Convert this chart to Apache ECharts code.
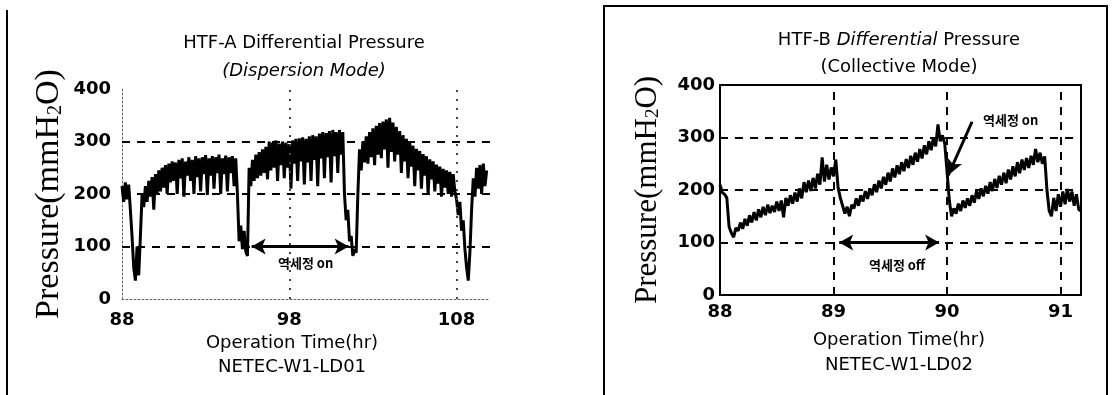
<!DOCTYPE html>
<html>
<head>
<meta charset="utf-8">
<script src="https://cdn.jsdelivr.net/npm/echarts@6/dist/echarts.min.js"></script>
<style>
  html, body { margin: 0; background: #fff; }
  #chart { width: 1114px; height: 395px; }
</style>
</head>
<body>
<div id="chart"></div>
<script>
// HTF-A, sampled every 0.1 hr from 88 hr
const startA = 88
const stepA = 0.1
const pressA = [
  215, 185, 222, 190, 218, 170, 120, 60, 35, 100,
  45, 120, 200, 175, 215, 185, 225, 195, 232, 170,
  238, 200, 245, 205, 250, 212, 255, 200, 258, 222,
  262, 225, 260, 200, 265, 230, 268, 195, 262, 235,
  270, 225, 265, 200, 272, 232, 268, 205, 270, 238,
  274, 198, 268, 235, 272, 210, 270, 240, 275, 200,
  268, 238, 273, 205, 270, 240, 272, 215, 268, 200,
  110, 140, 95, 130, 90, 82, 250, 215, 265, 225,
  275, 230, 280, 235, 285, 240, 290, 228, 300, 245,
  298, 250, 302, 225, 296, 255, 300, 230, 298, 250,
  295, 210, 302, 258, 305, 225, 306, 262, 308, 218,
  305, 260, 310, 225, 312, 265, 310, 215, 315, 268,
  318, 230, 316, 270, 320, 222, 322, 272, 318, 240,
  322, 275, 318, 200, 150, 170, 110, 120, 82, 95,
  88, 200, 285, 245, 300, 260, 310, 258, 318, 270,
  325, 255, 330, 275, 335, 268, 338, 285, 342, 250,
  345, 280, 336, 262, 328, 275, 320, 240, 312, 262,
  305, 230, 298, 252, 292, 215, 286, 245, 282, 210,
  276, 235, 272, 200, 266, 228, 262, 205, 256, 220,
  252, 195, 248, 212, 245, 200, 242, 195, 238, 205,
  190, 160, 185, 130, 150, 95, 60, 35, 90, 170,
  230, 195, 250, 210, 255, 200, 258, 215, 245
]

// HTF-B, sampled every 0.02 hr from 88 hr
const startB = 88
const stepB = 0.02
const pressB = [
  210, 195, 192, 185, 130, 118, 110, 128, 122, 138,
  126, 145, 132, 152, 138, 158, 142, 163, 148, 168,
  152, 172, 156, 170, 158, 178, 160, 180, 148, 185,
  170, 190, 174, 195, 178, 203, 184, 215, 196, 218,
  198, 223, 203, 231, 210, 262, 216, 248, 220, 243,
  226, 258, 205, 185, 170, 155, 168, 150, 172, 165,
  184, 170, 190, 178, 198, 183, 203, 190, 211, 196,
  218, 203, 225, 210, 233, 216, 241, 224, 247, 230,
  253, 236, 259, 242, 265, 248, 271, 254, 278, 260,
  285, 268, 293, 276, 299, 283, 325, 293, 304, 288,
  235, 180, 150, 165, 155, 174, 160, 180, 166, 184,
  170, 190, 176, 198, 183, 203, 188, 208, 193, 215,
  198, 221, 204, 227, 210, 233, 213, 239, 220, 245,
  226, 253, 232, 258, 238, 261, 242, 265, 248, 278,
  253, 271, 250, 264, 200, 160, 150, 185, 160, 192,
  168, 197, 173, 202, 178, 197, 170, 192, 163, 160
]

const xTicksA = [88, 98, 108]
const xTicksB = [89, 90, 91]
const yGrid = [100, 200, 300]

const SANS = 'DejaVu Sans'
const SERIF = 'Liberation Serif'
const INK = '#000'

const toPoints = (start, step, vals) => vals.map((v, i) => [+(start + i * step).toFixed(2), v])

const yName = (size) => ({
  name: '{a|Pressure(mmH}{s|2}{a|O)}',
  nameLocation: 'middle',
  nameRotate: 90,
  nameTextStyle: {
    rich: {
      a: { fontFamily: SERIF, fontSize: size, color: INK },
      s: { fontFamily: SERIF, fontSize: Math.round(size * 0.6), color: INK, verticalAlign: 'bottom' }
    }
  }
})

const tickFont = { fontFamily: SANS, fontSize: 18, fontWeight: 'bold', color: INK }
const dash = { type: [8, 7], width: 2, color: INK }
const dots = { type: [2, 7], width: 2, color: '#444' }
const krLabel = (text) => ({ show: true, position: 'inside', formatter: text, fontFamily: 'Noto Sans CJK KR', fontWeight: 'bold', fontSize: 13, color: INK })

const chart = echarts.init(document.getElementById('chart'))

chart.setOption({
  animation: false,
  grid: [
    { left: 122, top: 89, width: 368, height: 210 },
    { left: 720, top: 85, width: 361, height: 210, show: true, borderColor: INK, borderWidth: 2 }
  ],
  xAxis: [
    {
      gridIndex: 0, type: 'value', min: 88, max: 110, interval: 10,
      axisLine: { lineStyle: { color: '#666', type: [2, 2], width: 1 } },
      axisTick: { show: false }, splitLine: { show: false },
      axisLabel: Object.assign({ showMaxLabel: false, margin: 12 }, tickFont)
    },
    {
      gridIndex: 1, type: 'value', min: 88, max: 91.18, interval: 1,
      axisLine: { lineStyle: { color: INK, width: 2 } },
      axisTick: { show: false }, splitLine: { show: false },
      axisLabel: Object.assign({ showMaxLabel: false, margin: 8 }, tickFont)
    }
  ],
  yAxis: [
    Object.assign({
      gridIndex: 0, type: 'value', min: 0, max: 400, interval: 100, nameGap: 56,
      axisLine: { show: true, lineStyle: { color: '#666', type: [2, 2], width: 1 } },
      axisTick: { show: false }, splitLine: { show: false },
      axisLabel: Object.assign({ margin: 11 }, tickFont)
    }, yName(34)),
    Object.assign({
      gridIndex: 1, type: 'value', min: 0, max: 400, interval: 100, nameGap: 57,
      axisLine: { show: true, lineStyle: { color: INK, width: 2 } },
      axisTick: { show: false }, splitLine: { show: false },
      axisLabel: Object.assign({ margin: 5 }, tickFont)
    }, yName(31))
  ],
  series: [
    {
      // reference lines behind the HTF-A trace
      type: 'line', xAxisIndex: 0, yAxisIndex: 0, data: [], z: 1,
      markLine: {
        silent: true, symbol: 'none', label: { show: false },
        data: yGrid.map(v => ({ yAxis: v, lineStyle: dash }))
          .concat(xTicksA.slice(1).map(v => ({ xAxis: v, lineStyle: dots })))
      }
    },
    {
      type: 'line', xAxisIndex: 0, yAxisIndex: 0, z: 2,
      data: toPoints(startA, stepA, pressA),
      showSymbol: false, lineStyle: { color: INK, width: 3 },
      markLine: {
        silent: true, symbol: 'none', label: { show: false },
        data: [[
          { coord: [95.75, 100], symbol: 'arrow', symbolSize: [12, 14] },
          { coord: [101.55, 100], symbol: 'arrow', symbolSize: [12, 14] }
        ]],
        lineStyle: { color: INK, width: 3, type: 'solid' }
      },
      markPoint: {
        silent: true, symbol: 'circle', symbolSize: 0,
        data: [{ coord: [98.98, 68], label: krLabel('역세정 on') }]
      }
    },
    {
      // reference lines behind the HTF-B trace
      type: 'line', xAxisIndex: 1, yAxisIndex: 1, data: [], z: 1,
      markLine: {
        silent: true, symbol: 'none', label: { show: false },
        data: yGrid.map(v => ({ yAxis: v, lineStyle: dash }))
          .concat(xTicksB.map(v => ({ xAxis: v, lineStyle: dash })))
      }
    },
    {
      type: 'line', xAxisIndex: 1, yAxisIndex: 1, z: 2,
      data: toPoints(startB, stepB, pressB),
      showSymbol: false, lineStyle: { color: INK, width: 3 },
      markLine: {
        silent: true, symbol: 'none', label: { show: false },
        lineStyle: { color: INK, width: 3, type: 'solid' },
        data: [
          [
            { coord: [89.05, 100], symbol: 'arrow', symbolSize: [12, 14] },
            { coord: [89.93, 100], symbol: 'arrow', symbolSize: [12, 14] }
          ],
          [
            { coord: [90.22, 330], symbol: 'none' },
            { coord: [90.01, 228], symbol: 'arrow', symbolSize: [12, 16] }
          ]
        ]
      },
      markPoint: {
        silent: true, symbol: 'circle', symbolSize: 0,
        data: [
          { coord: [89.56, 57], label: krLabel('역세정 off') },
          { coord: [90.56, 333], label: krLabel('역세정 on') }
        ]
      }
    }
  ],
  graphic: [
    // panel frames
    { type: 'line', shape: { x1: 7, y1: 10, x2: 7, y2: 400 }, style: { stroke: INK, lineWidth: 2 } },
    { type: 'rect', shape: { x: 604, y: 6, width: 503, height: 400 }, style: { fill: 'none', stroke: INK, lineWidth: 2 } },
    // texts, left panel
    { type: 'text', x: 304, y: 43, style: { text: 'HTF-A Differential Pressure', font: '18px "DejaVu Sans"', fill: INK, textAlign: 'center', textVerticalAlign: 'middle' } },
    { type: 'text', x: 304, y: 71, style: { text: '(Dispersion Mode)', font: 'italic 18px "DejaVu Sans"', fill: INK, textAlign: 'center', textVerticalAlign: 'middle' } },
    { type: 'text', x: 292, y: 343, style: { text: 'Operation Time(hr)', font: '18px "DejaVu Sans"', fill: INK, textAlign: 'center', textVerticalAlign: 'middle' } },
    { type: 'text', x: 292, y: 367, style: { text: 'NETEC-W1-LD01', font: '18px "DejaVu Sans"', fill: INK, textAlign: 'center', textVerticalAlign: 'middle' } },
    // texts, right panel
    { type: 'text', x: 899, y: 40, style: { text: 'HTF-B {i|Differential} Pressure', font: '18px "DejaVu Sans"', fill: INK, textAlign: 'center', textVerticalAlign: 'middle', rich: { i: { fontStyle: 'italic', fontFamily: SANS, fontSize: 18, fill: INK } } } },
    { type: 'text', x: 899, y: 67, style: { text: '(Collective Mode)', font: '18px "DejaVu Sans"', fill: INK, textAlign: 'center', textVerticalAlign: 'middle' } },
    { type: 'text', x: 899, y: 340, style: { text: 'Operation Time(hr)', font: '18px "DejaVu Sans"', fill: INK, textAlign: 'center', textVerticalAlign: 'middle' } },
    { type: 'text', x: 899, y: 365, style: { text: 'NETEC-W1-LD02', font: '18px "DejaVu Sans"', fill: INK, textAlign: 'center', textVerticalAlign: 'middle' } }
  ]
})
</script>
</body>
</html>
